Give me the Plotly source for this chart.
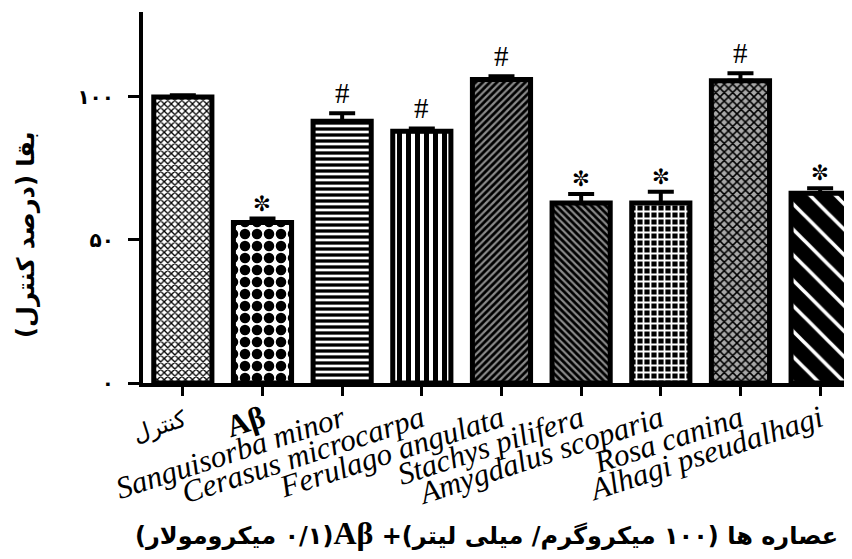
import plotly.graph_objects as go

# ---------------- data ----------------
categories = ["کنترل", "Aβ", "Sanguisorba minor", "Cerasus microcarpa",
              "Ferulago angulata", "Stachys pilifera", "Amygdalus scoparia",
              "Rosa canina", "Alhagi pseudalhagi"]
survival = [100.0, 56.1, 91.5, 88.0, 106.1, 62.9, 62.9, 105.7, 66.3]
sem = [0.6, 1.4, 2.8, 1.0, 1.1, 3.2, 4.0, 2.6, 1.8]
marks = ["", "✼", "#", "#", "#", "✼", "✼", "#", "✼"]
y_tick_values = [0, 50, 100]
y_tick_labels = ["۰", "۵۰", "۱۰۰"]
y_title = "بقا (درصد کنترل)"
x_title = "عصاره ها (۱۰۰ میکروگرم/ میلی لیتر)+ <span style='font-family:Liberation Serif;font-size:32px'>Aβ</span>(۰/۱ میکرومولار)"

# ---------------- styles ----------------
tick_text = []
for c in categories:
    if c == "کنترل":
        tick_text.append("<span style='font-family:DejaVu Sans;font-size:23px'>" + c + "</span>")
    elif c == "Aβ":
        tick_text.append("<b>" + c + "</b>")
    else:
        tick_text.append("<i>" + c + "</i>")

pat_shape = ["x", ".", "-", "|", "/", "\\", "+", "x", "\\"]
pat_fg = ["black", "black", "black", "black", "black", "black", "white", "black", "white"]
pat_bg = ["white", "white", "white", "white", "#8a8a8a", "#8a8a8a", "black", "#a8a8a8", "black"]
pat_size = [5, 12, 6, 9, 5, 5, 7, 6, 18]
pat_sol = [0.45, 0.6, 0.55, 0.55, 0.55, 0.55, 0.45, 0.45, 0.2]

fig = go.Figure()
fig.add_trace(go.Bar(
    x=categories, y=survival,
    marker=dict(color="white",
                line=dict(color="black", width=5),
                pattern=dict(shape=pat_shape, fgcolor=pat_fg, bgcolor=pat_bg,
                             size=pat_size, solidity=pat_sol, fillmode="replace")),
    error_y=dict(type="data", symmetric=False, array=sem,
                 arrayminus=[0] * len(sem), width=13, thickness=4, color="black"),
    showlegend=False,
))

annotations = []
for c, v, e, m in zip(categories, survival, sem, marks):
    if not m:
        continue
    if m == "#":
        annotations.append(dict(x=c, y=v + e, text=m, showarrow=False, yshift=20,
                                yanchor="middle",
                                font=dict(family="Liberation Serif", size=29, color="black")))
    else:
        annotations.append(dict(x=c, y=v + e, text=m, showarrow=False, yshift=15,
                                yanchor="middle",
                                font=dict(family="DejaVu Sans", size=21, color="black")))

annotations.append(dict(xref="paper", yref="paper", x=-0.166, y=0.40,
                        text="<b>\u202b" + y_title + "\u202c</b>", textangle=-90,
                        showarrow=False, xanchor="center", yanchor="middle",
                        font=dict(family="DejaVu Sans", size=24, color="black")))
annotations.append(dict(xref="paper", yref="paper", x=0.485, y=-0.405,
                        text="<b>\u202b" + x_title + "\u202c</b>",
                        showarrow=False, xanchor="center", yanchor="middle",
                        font=dict(family="DejaVu Sans", size=24, color="black")))

# the page body has an 8px margin, so the figure is drawn 8px smaller
fig.update_layout(
    width=844, height=551,
    margin=dict(l=135, r=0, t=4, b=176),
    paper_bgcolor="white", plot_bgcolor="white",
    bargap=0.27,
    annotations=annotations,
    xaxis=dict(type="category", range=[-0.5, 8.4],
               tickvals=categories, ticktext=tick_text,
               showline=True, linewidth=4, linecolor="black",
               ticks="outside", ticklen=9, tickwidth=3, tickcolor="black",
               tickangle=-18, ticklabelstandoff=-7,
               showgrid=False, zeroline=False,
               tickfont=dict(family="Liberation Serif", size=31, color="black")),
    yaxis=dict(range=[0, 129.7], tickvals=y_tick_values, ticktext=y_tick_labels,
               showline=True, linewidth=4, linecolor="black",
               ticks="outside", ticklen=11, tickwidth=3, tickcolor="black",
               ticklabelstandoff=10, showgrid=False, zeroline=False,
               tickfont=dict(family="DejaVu Sans", size=20, color="black", weight="bold")),
)

fig.write_html("out.html")
